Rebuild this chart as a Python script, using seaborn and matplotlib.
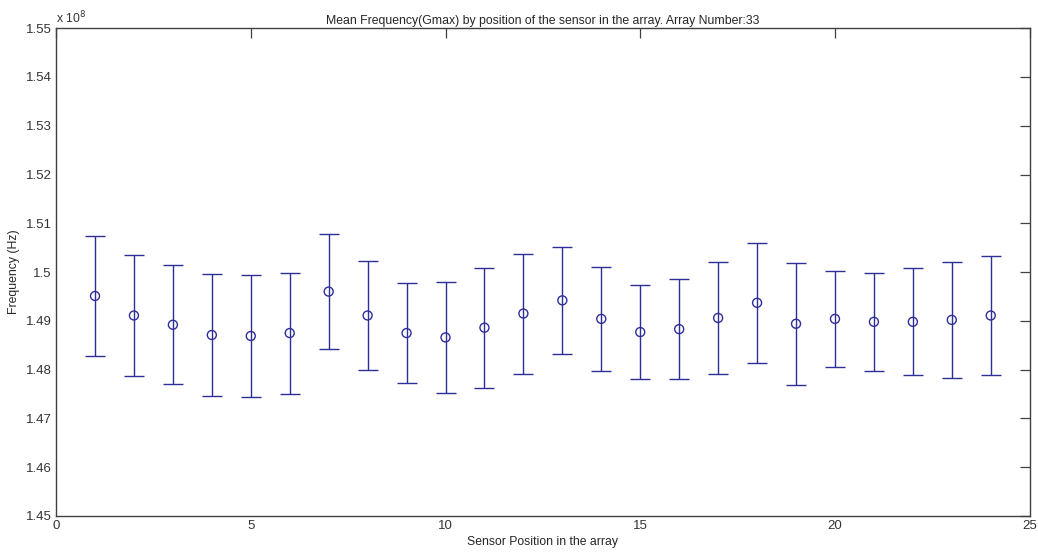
import matplotlib
matplotlib.use("Agg")
import matplotlib.pyplot as plt
import numpy as np
import pandas as pd
import seaborn as sns

# Sensor positions and mean frequency (in units of 1e8 Hz) with error half-widths
positions = list(range(1, 25))
mean_freq = [1.4951, 1.4911, 1.4892, 1.4871, 1.4869, 1.4875, 1.4960, 1.4911,
             1.4875, 1.4866, 1.4886, 1.4915, 1.4942, 1.4904, 1.4877, 1.4883,
             1.4906, 1.4937, 1.4894, 1.4904, 1.4898, 1.4898, 1.4902, 1.4911]
freq_err = [0.0123, 0.01235, 0.0122, 0.01255, 0.01255, 0.0124, 0.0118, 0.01125,
            0.01025, 0.0114, 0.0123, 0.0123, 0.01095, 0.0107, 0.0097, 0.0103,
            0.0114, 0.01225, 0.01245, 0.0098, 0.0101, 0.01095, 0.0119, 0.0121]
x_ticks = [0, 5, 10, 15, 20, 25]
y_ticks = [1.45, 1.46, 1.47, 1.48, 1.49, 1.50, 1.51, 1.52, 1.53, 1.54, 1.55]
y_tick_labels = ["1.45", "1.46", "1.47", "1.48", "1.49", "1.5", "1.51", "1.52",
                 "1.53", "1.54", "1.55"]

df = pd.DataFrame({"pos": positions, "freq": mean_freq, "err": freq_err})

sns.set_theme(style="white")
plt.rcParams["font.family"] = ["Liberation Sans", "DejaVu Sans"]

line_col = (0.18, 0.18, 0.60)
axis_col = (0.25, 0.25, 0.25)
text_col = (0.15, 0.15, 0.15)

fig = plt.figure(figsize=(10.38, 5.53), dpi=100)
ax = fig.add_axes([0.054, 0.067, 0.938, 0.882])

ax.errorbar(df["pos"], df["freq"], yerr=df["err"], fmt="none",
            ecolor=line_col, elinewidth=1.0, capsize=7, capthick=1.0, zorder=2)
sns.scatterplot(data=df, x="pos", y="freq", ax=ax, marker="o", s=42,
                facecolors="none", edgecolor=line_col, linewidth=1.0, zorder=3)

ax.set_xlim(0, 25)
ax.set_ylim(1.45, 1.55)
ax.set_xticks(x_ticks)
ax.set_xticklabels([str(t) for t in x_ticks])
ax.set_yticks(y_ticks)
ax.set_yticklabels(y_tick_labels)

ax.tick_params(axis="both", direction="in", length=7, width=0.9, color=axis_col,
               labelsize=9.5, labelcolor=(0.2, 0.2, 0.2), top=True, right=True,
               pad=3)
for sp in ax.spines.values():
    sp.set_visible(True)
    sp.set_color(axis_col)
    sp.set_linewidth(1.0)

ax.set_xlabel("Sensor Position in the array", fontsize=8.8, color=text_col,
              labelpad=3)
ax.set_ylabel("Frequency (Hz)", fontsize=8.8, color=text_col, labelpad=4)
ax.set_title("Mean Frequency(Gmax) by position of the sensor in the array. Array Number:33",
             fontsize=8.8, color=text_col, pad=3)
ax.text(0.0, 1.004, r"x 10$^{8}$", transform=ax.transAxes, fontsize=8.8,
        color=(0.2, 0.2, 0.2), ha="left", va="bottom")

fig.savefig("out.png", dpi=100, facecolor="white")
